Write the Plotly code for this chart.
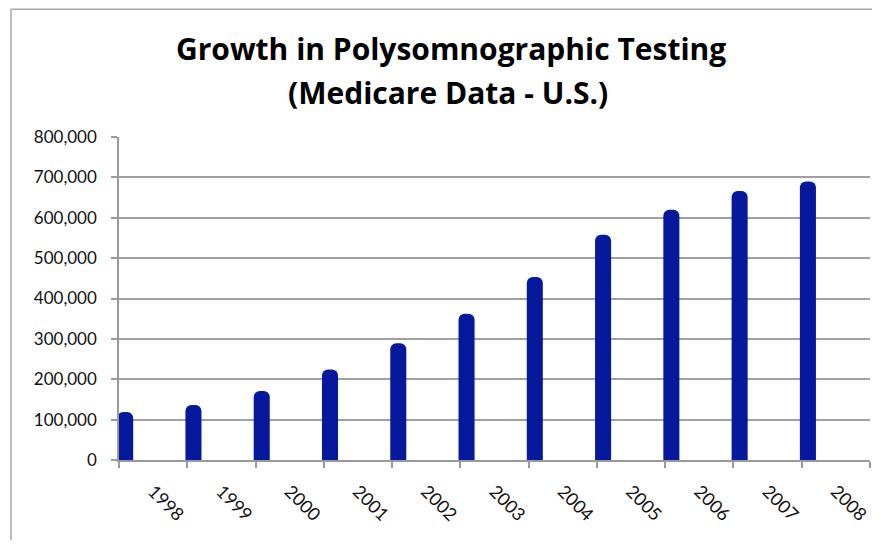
import plotly.graph_objects as go

years = ["1998", "1999", "2000", "2001", "2002", "2003", "2004", "2005", "2006", "2007", "2008"]
tests = [119000, 136000, 171000, 224000, 289000, 362000, 453000, 558000, 620000, 666000, 690000]
y_ticks = [0, 100000, 200000, 300000, 400000, 500000, 600000, 700000, 800000]
y_labels = ["0", "100,000", "200,000", "300,000", "400,000", "500,000", "600,000", "700,000", "800,000"]
title_lines = ["Growth in Polysomnographic Testing", "(Medicare Data - U.S.)"]

# page body has an 8px margin; work in page pixels and convert
OFF = 8
W, H = 864, 532
PL, PR, PT, PB = 119, 870, 136.5, 460.3  # plot area in page pixels
L = PL - OFF
R = W - (PR - OFF)
T = PT - OFF
B = H - (PB - OFF)
pw, ph = PR - PL, PB - PT

def px_x(x):
    return (x - PL) / pw

def px_y(y):
    return (PB - y) / ph

fig = go.Figure()
fig.add_trace(go.Bar(
    x=years, y=tests,
    marker=dict(color="#06189c", line=dict(width=0)),
    width=0.235, offset=-0.527,
))

annotations = []
for txt, cx, base in zip(title_lines, [451, 448], [62, 106]):
    annotations.append(dict(
        text="<b>" + txt + "</b>",
        xref="paper", yref="paper",
        x=px_x(cx), y=px_y(base + 8),
        xanchor="center", yanchor="bottom",
        showarrow=False,
        font=dict(family="Open Sans", size=30, color="#000"),
    ))

fig.update_layout(
    width=W, height=H,
    margin=dict(l=L, r=R, t=T, b=B),
    paper_bgcolor="white", plot_bgcolor="white",
    barcornerradius=6,
    showlegend=False,
    font=dict(family="Lato", size=17, color="#111"),
    annotations=annotations,
    shapes=[dict(
        type="rect", xref="paper", yref="paper",
        x0=px_x(11), x1=1.3, y0=-0.6, y1=px_y(8.5),
        line=dict(color="#a8a8a8", width=1.5), layer="below",
    )],
)

fig.update_xaxes(
    type="category", tickson="boundaries", ticks="outside", ticklen=6,
    tickcolor="#999", tickwidth=1.5, tickangle=45,
    showline=True, linecolor="#999", linewidth=1.5,
    showgrid=False, range=[-0.5, 10.5], automargin=False,
    ticklabelstandoff=12,
    tickfont=dict(family="Lato", size=18, color="#111"),
)
fig.update_yaxes(
    range=[0, 800000], tickvals=y_ticks, ticktext=y_labels,
    ticks="outside", ticklen=6, tickcolor="#999", tickwidth=1.5,
    showline=True, linecolor="#999", linewidth=1.5,
    showgrid=True, gridcolor="#a0a0a0", gridwidth=1.5,
    zeroline=False, ticklabelstandoff=11, automargin=False,
    tickfont=dict(family="Lato", size=17, color="#111"),
)

fig.write_html("out.html")
